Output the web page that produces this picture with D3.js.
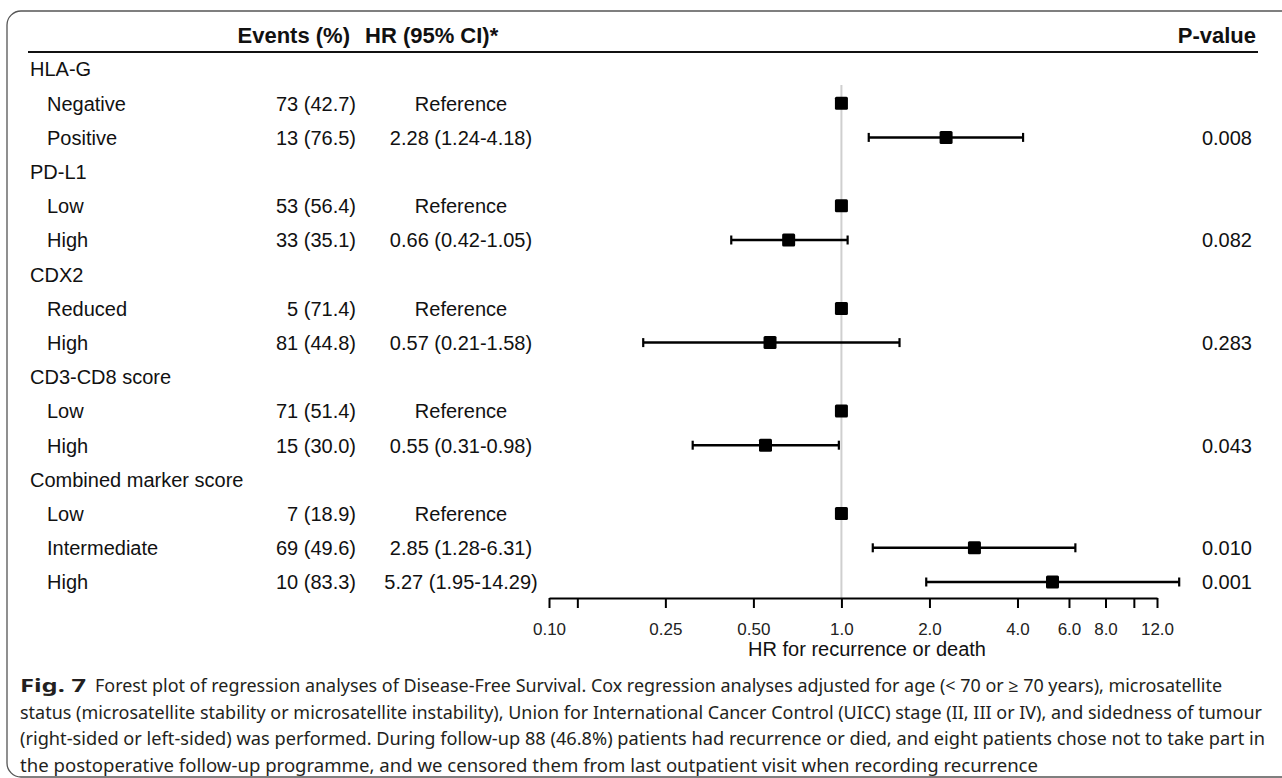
<!DOCTYPE html>
<html>
<head>
<meta charset="utf-8">
<script src="https://cdn.jsdelivr.net/npm/d3@7"></script>
<style>
  body { margin: 0; background: #fff; }
  svg { display: block; font-family: "Liberation Sans", Arial, sans-serif; }
</style>
</head>
<body>
<svg width="1282" height="778"></svg>
<script>
// Chart values
const variables = ["HLA-G", "PD-L1", "CDX2", "CD3-CD8 score", "Combined marker score"];
const levels = [["Negative", "Positive"], ["Low", "High"], ["Reduced", "High"], ["Low", "High"], ["Low", "Intermediate", "High"]];
const events = [["73 (42.7)", "13 (76.5)"], ["53 (56.4)", "33 (35.1)"], ["5 (71.4)", "81 (44.8)"], ["71 (51.4)", "15 (30.0)"], ["7 (18.9)", "69 (49.6)", "10 (83.3)"]];
const hazard = [[1, 2.28], [1, 0.66], [1, 0.57], [1, 0.55], [1, 2.85, 5.27]];
const ciLower = [[null, 1.24], [null, 0.42], [null, 0.21], [null, 0.31], [null, 1.28, 1.95]];
const ciUpper = [[null, 4.18], [null, 1.05], [null, 1.58], [null, 0.98], [null, 6.31, 14.29]];
const pValues = [[null, "0.008"], [null, "0.082"], [null, "0.283"], [null, "0.043"], [null, "0.010", "0.001"]];
const tickValues = [0.1, 0.125, 0.25, 0.5, 1, 2, 4, 6, 8, 10, 12];
const tickLabels = ["0.10", "", "0.25", "0.50", "1.0", "2.0", "4.0", "6.0", "8.0", "", "12.0"];
const captionLines = [
  "Forest plot of regression analyses of Disease-Free Survival. Cox regression analyses adjusted for age (< 70 or \u2265 70 years), microsatellite",
  "status (microsatellite stability or microsatellite instability), Union for International Cancer Control (UICC) stage (II, III or IV), and sidedness of tumour",
  "(right-sided or left-sided) was performed. During follow-up 88 (46.8%) patients had recurrence or died, and eight patients chose not to take part in",
  "the postoperative follow-up programme, and we censored them from last outpatient visit when recording recurrence"
];
// approximate right edges of caption lines in the picture
const captionEnds = [1222, 1262, 1265, 1038];

const svg = d3.select("svg");

// flatten into rows: group header followed by its levels
const rows = [];
variables.forEach((v, g) => {
  rows.push({ label: v, group: true });
  levels[g].forEach((lv, k) => {
    rows.push({
      label: lv, group: false,
      events: events[g][k], hr: hazard[g][k],
      lo: ciLower[g][k], hi: ciUpper[g][k], p: pValues[g][k]
    });
  });
});

// scales
const x = d3.scaleLog().domain([0.1, 12]).range([549, 1157]);
const y = d3.scaleLinear().domain([0, rows.length - 1]).range([69, 582]);
const axisY = 598;

// figure frame (open on the right)
svg.append("rect")
  .attr("x", 7).attr("y", 11)
  .attr("width", 1320).attr("height", 766)
  .attr("rx", 14)
  .attr("fill", "none")
  .attr("stroke", "#555")
  .attr("stroke-width", 1.3);

// header
const header = svg.append("g").attr("font-weight", "bold").attr("font-size", 22).attr("fill", "#111");
header.append("text").attr("x", 350).attr("y", 43).attr("text-anchor", "end").text("Events (%)");
header.append("text").attr("x", 365).attr("y", 43).text("HR (95% CI)*");
header.append("text").attr("x", 1256).attr("y", 43).attr("text-anchor", "end").text("P-value");
svg.append("line")
  .attr("x1", 28).attr("x2", 1258)
  .attr("y1", 52).attr("y2", 52)
  .attr("stroke", "#111").attr("stroke-width", 2);

// reference line at HR = 1
svg.append("line")
  .attr("x1", x(1)).attr("x2", x(1))
  .attr("y1", 85).attr("y2", axisY)
  .attr("stroke", "#cfcfcf").attr("stroke-width", 2);

// table text
const rowG = svg.selectAll(".row")
  .data(rows)
  .enter().append("g")
  .attr("class", "row")
  .attr("transform", (d, i) => `translate(0,${y(i)})`)
  .attr("font-size", 20)
  .attr("fill", "#111");

rowG.append("text")
  .attr("x", d => d.group ? 30 : 47)
  .attr("dy", "0.37em")
  .text(d => d.label);

const lv = rowG.filter(d => !d.group);

lv.append("text")
  .attr("x", 356).attr("dy", "0.37em")
  .attr("text-anchor", "end")
  .text(d => d.events);

lv.append("text")
  .attr("x", 461).attr("dy", "0.37em")
  .attr("text-anchor", "middle")
  .text(d => d.lo == null ? "Reference" : `${d.hr.toFixed(2)} (${d.lo.toFixed(2)}-${d.hi.toFixed(2)})`);

lv.filter(d => d.p).append("text")
  .attr("x", 1252).attr("dy", "0.37em")
  .attr("text-anchor", "end")
  .text(d => d.p);

// confidence intervals
const ci = lv.filter(d => d.lo != null);
ci.append("line")
  .attr("x1", d => x(d.lo)).attr("x2", d => x(d.hi))
  .attr("stroke", "#000").attr("stroke-width", 2.5);
ci.append("line")
  .attr("x1", d => x(d.lo)).attr("x2", d => x(d.lo))
  .attr("y1", -4.5).attr("y2", 4.5)
  .attr("stroke", "#000").attr("stroke-width", 2.2);
ci.append("line")
  .attr("x1", d => x(d.hi)).attr("x2", d => x(d.hi))
  .attr("y1", -4.5).attr("y2", 4.5)
  .attr("stroke", "#000").attr("stroke-width", 2.2);

// point estimates
const sq = 13;
lv.append("rect")
  .attr("x", d => x(d.hr) - sq / 2).attr("y", -sq / 2)
  .attr("width", sq).attr("height", sq)
  .attr("rx", 1.5)
  .attr("fill", "#000");

// x axis
const axis = svg.append("g")
  .attr("transform", `translate(0,${axisY})`)
  .call(d3.axisBottom(x)
    .tickValues(tickValues)
    .tickFormat((d, i) => tickLabels[i])
    .tickSize(10)
    .tickSizeOuter(0)
    .tickPadding(15));
axis.select(".domain").attr("stroke", "#000").attr("stroke-width", 2);
axis.selectAll(".tick line").attr("stroke", "#000").attr("stroke-width", 2);
axis.selectAll(".tick text")
  .attr("font-size", 17)
  .attr("font-family", "Liberation Sans, Arial, sans-serif")
  .attr("fill", "#222");

svg.append("text")
  .attr("x", 867).attr("y", 656)
  .attr("text-anchor", "middle")
  .attr("font-size", 20)
  .attr("fill", "#111")
  .text("HR for recurrence or death");

// caption
const cap = svg.append("g")
  .attr("font-family", "'Noto Sans', 'Open Sans', sans-serif")
  .attr("font-size", 17.5)
  .attr("fill", "#231f20");
cap.append("text")
  .attr("x", 20).attr("y", 692)
  .attr("font-weight", "bold")
  .attr("textLength", 66).attr("lengthAdjust", "spacingAndGlyphs")
  .text("Fig. 7");
captionLines.forEach((line, i) => {
  const x0 = i === 0 ? 95 : 20;
  cap.append("text")
    .attr("x", x0).attr("y", 692 + i * 26.7)
    .attr("textLength", captionEnds[i] - x0)
    .attr("lengthAdjust", "spacingAndGlyphs")
    .text(line);
});
</script>
</body>
</html>
